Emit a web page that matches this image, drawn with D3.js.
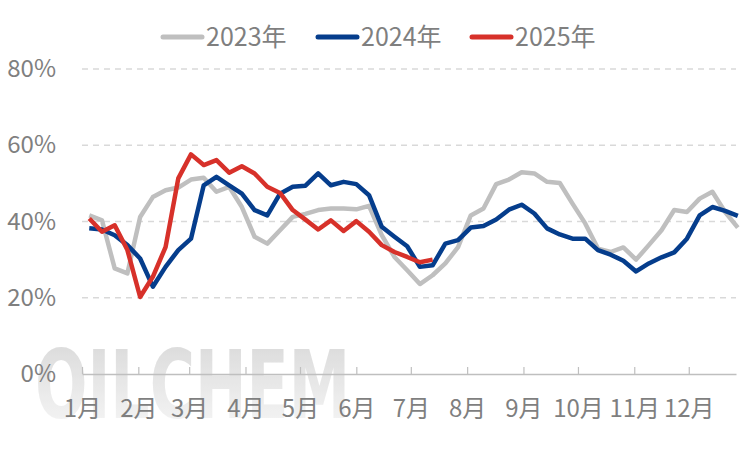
<html>
<head>
<meta charset="utf-8">
<script src="https://d3js.org/d3.v7.min.js"></script>
<style>
  body { margin: 0; background: #fff; }
  text { font-family: "Noto Sans CJK SC", "Noto Sans", sans-serif; }
</style>
</head>
<body>
<svg width="751" height="450"></svg>
<script>
    // weekly values, % (week i falls on Jan 5 + 7*i)
    const years = ["2023年", "2024年", "2025年"];
    const colors = ["#bfbfbf", "#053d8c", "#d7312a"];

    const v2023 = [41.6, 40.3, 27.7, 26.4, 41.2, 46.4, 48.2, 48.9, 51.0, 51.5, 47.8, 49.1, 43.8,
        36.0, 34.2, 37.7, 41.2, 42.0, 43.0, 43.4, 43.4, 43.2, 44.1, 36.4, 30.7, 27.2, 23.6,
        25.9, 29.0, 33.3, 41.6, 43.4, 49.8, 51.0, 52.9, 52.6, 50.4, 50.1, 44.7, 39.5, 32.9,
        32.0, 33.2, 30.0, 33.8, 37.7, 43.0, 42.5, 46.0, 47.8, 42.5, 38.4];
    const v2024 = [38.2, 37.9, 36.4, 33.8, 30.3, 22.9, 28.1, 32.5, 35.5, 49.5, 51.7, 49.5, 47.3,
        43.0, 41.6, 47.3, 49.1, 49.4, 52.6, 49.5, 50.4, 49.8, 46.9, 38.6, 36.0, 33.5, 28.1,
        28.5, 34.2, 35.1, 38.4, 38.8, 40.5, 43.1, 44.4, 42.1, 38.2, 36.6, 35.5, 35.5, 32.5,
        31.3, 29.7, 26.9, 29.0, 30.6, 31.9, 35.5, 41.6, 43.8, 42.8, 41.5];
    const v2025 = [40.8, 37.3, 39.0, 32.5, 20.2, 25.5, 33.3, 51.3, 57.6, 54.8, 56.1, 52.8, 54.5,
        52.6, 49.1, 47.5, 43.0, 40.5, 37.9, 40.3, 37.5, 40.1, 37.3, 33.8, 32.0, 30.7, 29.3, 30.0];

    const monthLabels = ["1月", "2月", "3月", "4月", "5月", "6月", "7月", "8月", "9月", "10月", "11月", "12月"];
    const yTicks = [0, 20, 40, 60, 80];

    const svg = d3.select("svg");

    const x = d3.scaleUtc()
        .domain([new Date(Date.UTC(2023, 0, 1)), new Date(Date.UTC(2023, 11, 27))])
        .range([82, 736]);
    const y = d3.scaleLinear().domain([0, 80]).range([374, 69]);

    const weekDate = i => new Date(Date.UTC(2023, 0, 5 + 7 * i));

    // watermark
    const grad = svg.append("defs").append("linearGradient")
        .attr("id", "wm").attr("x1", 0).attr("y1", 0).attr("x2", 0).attr("y2", 1);
    grad.append("stop").attr("offset", "0%").attr("stop-color", "#c8c8c8");
    grad.append("stop").attr("offset", "100%").attr("stop-color", "#f6f6f6");
    svg.append("text")
        .attr("x", 35).attr("y", 418)
        .attr("textLength", 315).attr("lengthAdjust", "spacingAndGlyphs")
        .style("font-family", "'DejaVu Sans'")
        .style("font-weight", "bold")
        .style("font-size", "94px")
        .attr("fill", "url(#wm)")
        .attr("opacity", 0.7)
        .text("OILCHEM");

    // grid
    svg.append("g")
        .selectAll("line")
        .data(yTicks.filter(d => d > 0))
        .join("line")
        .attr("x1", 82).attr("x2", 736)
        .attr("y1", d => y(d)).attr("y2", d => y(d))
        .attr("stroke", "#d9d9d9")
        .attr("stroke-width", 1.5)
        .attr("stroke-dasharray", "6,5");

    // y labels
    const yAxis = svg.append("g")
        .attr("transform", "translate(82,0)")
        .call(d3.axisLeft(y).tickValues(yTicks).tickSize(0).tickPadding(26).tickFormat(d => d + "%"));
    yAxis.select(".domain").remove();
    yAxis.selectAll("text").attr("fill", "#7f7f7f").style("font-size", "24px");

    // x axis
    const xAxis = svg.append("g")
        .attr("transform", `translate(0,${y(0)})`)
        .call(d3.axisBottom(x)
            .ticks(d3.utcMonth.every(1))
            .tickSizeInner(-7).tickSizeOuter(0).tickPadding(26)
            .tickFormat((d, i) => monthLabels[i]));
    xAxis.select(".domain").attr("stroke", "#bfbfbf").attr("stroke-width", 1.5);
    xAxis.selectAll("line").attr("stroke", "#bfbfbf").attr("stroke-width", 1.2);
    xAxis.selectAll("text").attr("fill", "#7f7f7f").style("font-size", "24px");

    // lines
    const line = d3.line()
        .x((d, i) => x(weekDate(i)))
        .y(d => y(d));

    [v2023, v2024, v2025].forEach((vals, k) => {
        svg.append("path")
            .datum(vals)
            .attr("d", line)
            .attr("fill", "none")
            .attr("stroke", colors[k])
            .attr("stroke-width", 4.5)
            .attr("stroke-linejoin", "round");
    });

    // legend
    const legendX = [160, 315, 469];
    const lg = svg.append("g")
        .selectAll("g")
        .data(years)
        .join("g")
        .attr("transform", (d, i) => `translate(${legendX[i]},37)`);
    lg.append("line")
        .attr("x1", 3).attr("x2", 42)
        .attr("stroke", (d, i) => colors[i])
        .attr("stroke-width", 5)
        .attr("stroke-linecap", "round");
    lg.append("text")
        .attr("x", 46).attr("dy", "0.36em")
        .attr("fill", "#7f7f7f")
        .style("font-size", "25px")
        .text(d => d);
</script>
</body>
</html>
